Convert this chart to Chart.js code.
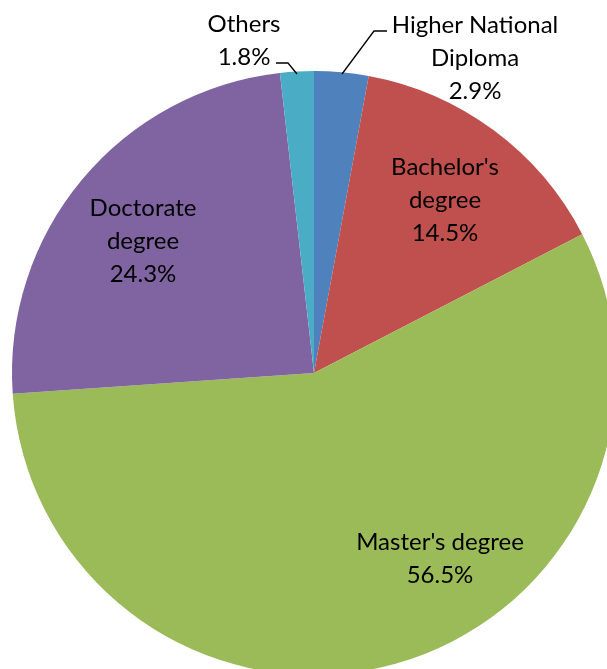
<!DOCTYPE html>
<html>
<head>
<meta charset="utf-8">
<script src="https://cdn.jsdelivr.net/npm/chart.js@4.4.1/dist/chart.umd.min.js"></script>
<style>
	html, body { margin: 0; padding: 0; background: #fff; overflow: hidden; }
	#wrap { position: absolute; left: 0; top: 0; width: 628px; height: 746px; }
</style>
</head>
<body>
<div id="wrap"><canvas id="degreePie"></canvas></div>
<script>
const categories = ["Higher National Diploma", "Bachelor's degree", "Master's degree", "Doctorate degree", "Others"];
const shares = [2.9, 14.5, 56.5, 24.3, 1.8];
const colors = ["#4F81BD", "#C0504D", "#9BBB59", "#8064A2", "#4BACC6"];

// label text lines, split like the original
const labelLines = [
	["Higher National", "Diploma"],
	["Bachelor's", "degree"],
	["Master's degree"],
	["Doctorate", "degree"],
	["Others"],
];

// where each label block is centred (first line), plus leader lines for the small slices
const labelSpots = [
	{ x: 475, y: 25, leader: [[387, 31], [374, 31], [342, 74]] },
	{ x: 445, y: 167 },
	{ x: 440, y: 542 },
	{ x: 143, y: 208 },
	{ x: 244, y: 24, leader: [[276, 63], [288, 63], [297, 74]] },
];

const pieLabels = {
	id: "pieLabels",
	afterDatasetsDraw(chart) {
		const ctx = chart.ctx;
		const vals = chart.data.datasets[0].data;
		ctx.save();
		ctx.font = "24px Lato";
		ctx.fillStyle = "#000";
		ctx.textAlign = "center";
		ctx.textBaseline = "middle";
		const lh = 33;
		labelSpots.forEach(function (spot, i) {
			let lines = labelLines[i].concat([vals[i].toFixed(1) + "%"]);
			lines.forEach(function (t, k) {
				ctx.fillText(t, spot.x, spot.y + k * lh);
			});
			if (spot.leader) {
				ctx.beginPath();
				ctx.strokeStyle = "#000";
				ctx.lineWidth = 1.3;
				spot.leader.forEach(function (p, k) {
					if (k == 0) ctx.moveTo(p[0], p[1]);
					else ctx.lineTo(p[0], p[1]);
				});
				ctx.stroke();
			}
		});
		ctx.restore();
	},
};

var degreePie = document.getElementById("degreePie");
var pieChart = new Chart(degreePie, {
	type: "pie",
	data: {
		labels: categories,
		datasets: [
			{
				data: shares,
				backgroundColor: colors,
				borderWidth: 0,
			},
		],
	},
	options: {
		maintainAspectRatio: false,
		responsive: true,
		animation: false,
		layout: {
			padding: { left: 12, right: 12, top: 71, bottom: 71 },
		},
		plugins: {
			legend: { display: false },
			tooltip: { enabled: false },
		},
	},
	plugins: [pieLabels],
});
</script>
</body>
</html>
